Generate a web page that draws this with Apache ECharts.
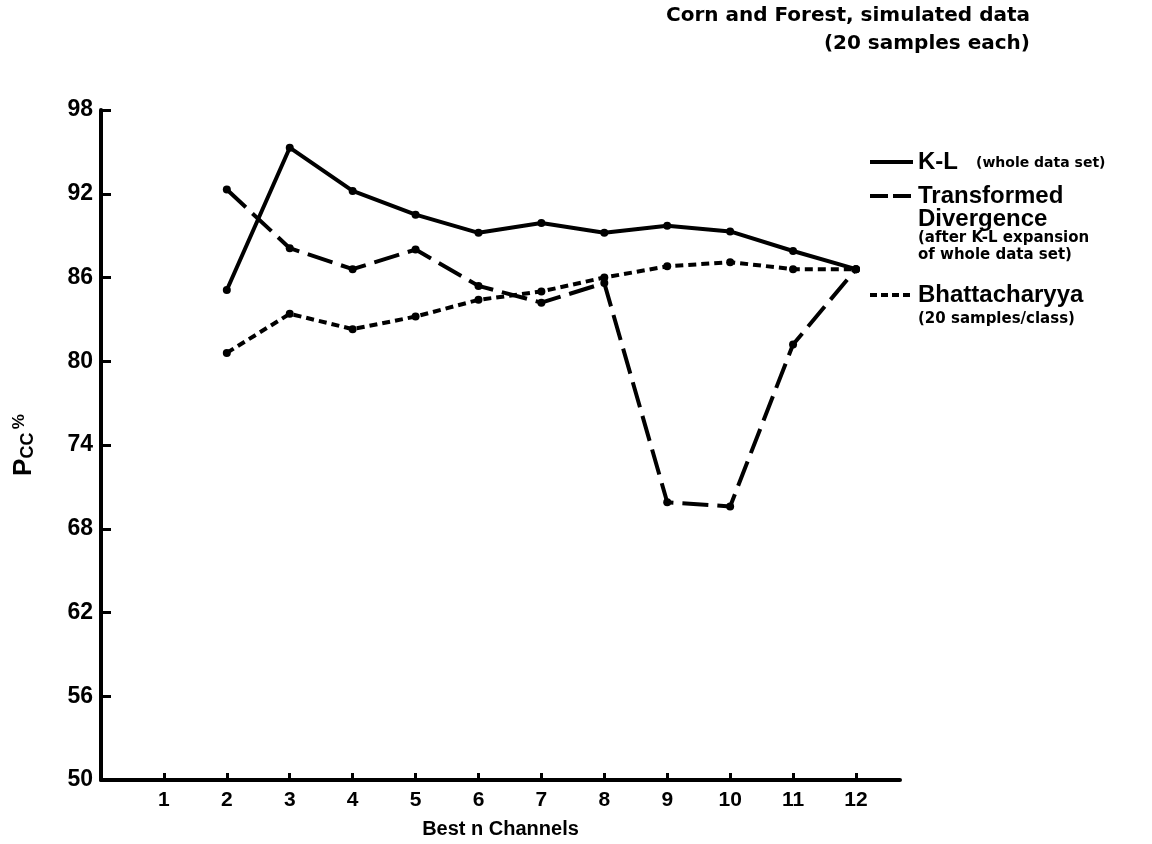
<!DOCTYPE html>
<html>
<head>
<meta charset="utf-8">
<script src="https://cdn.jsdelivr.net/npm/echarts@6/dist/echarts.min.js"></script>
<style>
  html, body { margin: 0; padding: 0; background: #fff; }
  #chart { width: 1152px; height: 844px; }
</style>
</head>
<body>
<div id="chart"></div>
<script>
// Best n channels used by each feature-selection method
const channels = [2, 3, 4, 5, 6, 7, 8, 9, 10, 11, 12];

// Probability of correct classification (%) per method
const klWhole = [85.1, 95.3, 92.2, 90.5, 89.2, 89.9, 89.2, 89.7, 89.3, 87.9, 86.6];
const transformedDivergence = [92.3, 88.1, 86.6, 88.0, 85.4, 84.2, 85.6, 69.9, 69.6, 81.2, 86.6];
const bhattacharyya = [80.6, 83.4, 82.3, 83.2, 84.4, 85.0, 86.0, 86.8, 87.1, 86.6, 86.6];

// Tick labels
const xTickValues = [1, 2, 3, 4, 5, 6, 7, 8, 9, 10, 11, 12];
const yTickValues = [50, 56, 62, 68, 74, 80, 86, 92, 98];

const FONT = '"Liberation Sans", Arial, Helvetica, sans-serif';
const WIDE = '"DejaVu Sans", Verdana, sans-serif';

const toPoints = (vals) => channels.map((c, i) => [c, vals[i]]);

const chart = echarts.init(document.getElementById('chart'), null, { renderer: 'canvas' });

const seriesBase = {
  type: 'line',
  symbol: 'circle',
  symbolSize: 8,
  itemStyle: { color: '#000' },
  emphasis: { disabled: true },
  z: 3
};

// Legend drawn as line swatches + stacked text blocks
const legendX = 870;
const legendTextX = 918;
function swatch(y, dash) {
  return {
    type: 'line',
    shape: { x1: legendX, y1: y, x2: legendX + 43, y2: y },
    style: { stroke: '#000', lineWidth: 4, lineDash: dash }
  };
}
function label(x, y, text, size, family, align) {
  return {
    type: 'text',
    x: x, y: y,
    style: {
      text: text,
      font: 'bold ' + size + 'px ' + (family || FONT),
      fill: '#000',
      textAlign: align || 'left',
      textVerticalAlign: 'middle'
    }
  };
}

const option = {
  animation: false,
  backgroundColor: '#fff',
  grid: { left: 101, right: 252, top: 110, bottom: 64, containLabel: false, outerBoundsMode: 'none' },
  xAxis: {
    type: 'value',
    min: 0,
    max: 12.7,
    interval: 1,
    name: 'Best n Channels',
    nameLocation: 'middle',
    nameGap: 39,
    nameTextStyle: { fontFamily: FONT, fontWeight: 'bold', fontSize: 20, color: '#000' },
    axisLine: { show: true, lineStyle: { color: '#000', width: 4 } },
    axisTick: { show: true, inside: true, length: 7, lineStyle: { color: '#000', width: 3 }, customValues: xTickValues },
    axisLabel: { customValues: xTickValues, fontFamily: FONT, fontWeight: 'bold', fontSize: 21, color: '#000', margin: 10 },
    splitLine: { show: false }
  },
  yAxis: {
    type: 'value',
    min: 50,
    max: 98,
    interval: 6,
    name: '{p|P}{s|CC} {q|%}',
    nameLocation: 'middle',
    nameRotate: 90,
    nameGap: 64,
    nameTextStyle: {
      color: '#000',
      rich: {
        p: { fontFamily: FONT, fontWeight: 'bold', fontSize: 26, color: '#000', verticalAlign: 'middle', lineHeight: 26 },
        s: { fontFamily: FONT, fontWeight: 'bold', fontSize: 18, color: '#000', verticalAlign: 'bottom', lineHeight: 26, padding: [12, 0, 0, 0] },
        q: { fontFamily: FONT, fontWeight: 'bold', fontSize: 17, color: '#000', verticalAlign: 'top', lineHeight: 26 }
      }
    },
    axisLine: { show: true, lineStyle: { color: '#000', width: 4 } },
    axisTick: { show: true, inside: true, length: 10, lineStyle: { color: '#000', width: 3 }, customValues: yTickValues },
    axisLabel: { customValues: yTickValues, fontFamily: FONT, fontWeight: 'bold', fontSize: 23, color: '#000', margin: 8 },
    splitLine: { show: false }
  },
  series: [
    Object.assign({}, seriesBase, {
      name: 'K-L (whole data set)',
      data: toPoints(klWhole),
      lineStyle: { color: '#000', width: 4, type: 'solid' }
    }),
    Object.assign({}, seriesBase, {
      name: 'Transformed Divergence',
      data: toPoints(transformedDivergence),
      lineStyle: { color: '#000', width: 4, type: [26, 9] }
    }),
    Object.assign({}, seriesBase, {
      name: 'Bhattacharyya',
      data: toPoints(bhattacharyya),
      lineStyle: { color: '#000', width: 4, type: [8, 5] }
    })
  ],
  graphic: [
    // title block
    label(1030, 16, 'Corn and Forest, simulated data', 20, WIDE, 'right'),
    label(1030, 44, '(20 samples each)', 20, WIDE, 'right'),
    // K-L
    swatch(162, null),
    label(legendTextX, 162, 'K-L', 24),
    label(976, 163, '(whole data set)', 14, WIDE),
    // Transformed divergence
    swatch(196, [18, 5]),
    label(legendTextX, 196, 'Transformed', 24),
    label(legendTextX, 219, 'Divergence', 24),
    label(legendTextX, 238, '(after K-L expansion', 15, WIDE),
    label(legendTextX, 255, 'of whole data set)', 15, WIDE),
    // Bhattacharyya
    swatch(295, [7, 4]),
    label(legendTextX, 295, 'Bhattacharyya', 24),
    label(legendTextX, 319, '(20 samples/class)', 15, WIDE)
  ]
};

chart.setOption(option);
</script>
</body>
</html>
